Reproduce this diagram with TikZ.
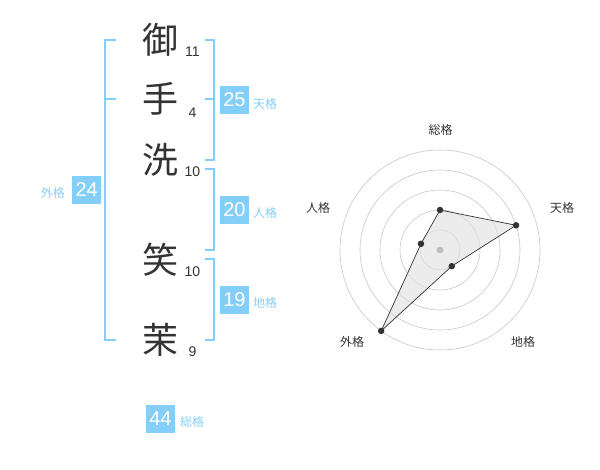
\documentclass[tikz,border=0pt]{standalone}
\usepackage{fontspec}
\usetikzlibrary{calc}
\setmainfont{Liberation Sans}
\newfontfamily\cjk{Noto Sans CJK JP}
\definecolor{lb}{RGB}{132,206,250}
\definecolor{ink}{RGB}{51,51,51}
\begin{document}
\begin{tikzpicture}[x=1pt,y=-1pt,
  kanji/.style={font=\cjk\fontsize{36}{36}\selectfont,text=ink,inner sep=0pt},
  stroke/.style={font=\fontsize{14}{14}\selectfont,text=ink,inner sep=0pt},
  numbox/.style={fill=lb,text=white,minimum width=29pt,minimum height=28pt,inner sep=0pt,font=\fontsize{20}{20}\selectfont},
  kaku/.style={font=\cjk\fontsize{12}{12}\selectfont,text=lb,inner sep=0pt},
  brk/.style={draw=lb,line width=2pt},
  ring/.style={draw=black!22,line width=0.6pt},
  axlab/.style={font=\cjk\fontsize{12}{12}\selectfont,text=ink,inner sep=0pt},
  dot/.style={circle,fill=ink,inner sep=0pt,minimum size=6.5pt}]
\useasboundingbox (0,0) rectangle (600,470);
% kanji
\node[kanji] (k1) at (160,40) {御};
\node[kanji] (k2) at (160,99) {手};
\node[kanji] (k3) at (160,160) {洗};
\node[kanji] (k4) at (160,260) {笑};
\node[kanji] (k5) at (160,340) {茉};
% stroke counts
\node[stroke] (s1) at (192.5,52) {11};
\node[stroke] (s2) at (192.5,113) {4};
\node[stroke] (s3) at (192.5,172) {10};
\node[stroke] (s4) at (192.5,272) {10};
\node[stroke] (s5) at (192.5,352) {9};
% brackets
\coordinate (lt) at (116,40); \coordinate (lm) at (116,99); \coordinate (lb) at (116,340);
\draw[brk] (lt) -- (105,40) -- (105,340) -- (lb);
\draw[brk] (lm) -- (105,99);
\coordinate (t1) at (205,40); \coordinate (t2) at (205,160); \coordinate (tm) at (205,99);
\draw[brk] (t1) -- (214,40) -- (214,160) -- (t2);
\draw[brk] (tm) -- (214,99);
\coordinate (j1) at (205,169.5); \coordinate (j2) at (205,250);
\draw[brk] (j1) -- (214,169.5) -- (214,250) -- (j2);
\coordinate (c1) at (205,259.5); \coordinate (c2) at (205,340);
\draw[brk] (c1) -- (214,259.5) -- (214,340) -- (c2);
% boxes
\node[numbox] (b25) at (234.5,100) {25};
\node[kaku,anchor=west] (l25) at (253,104) {天格};
\node[numbox] (b20) at (234.5,210) {20};
\node[kaku,anchor=west] (l20) at (253,213) {人格};
\node[numbox] (b19) at (234.5,300) {19};
\node[kaku,anchor=west] (l19) at (253,303) {地格};
\node[numbox] (b24) at (86.7,190) {24};
\node[kaku,anchor=east] (l24) at (65,193) {外格};
\node[numbox] (b44) at (160.5,419) {44};
\node[kaku,anchor=west] (l44) at (180,422) {総格};
% radar
\coordinate (c) at (440,250);
\foreach \r in {20,40,60,80,100} \draw[ring] (c) circle (\r);
\coordinate (p1) at ($(c)+(-90:40)$);
\coordinate (p2) at ($(c)+(-18:80)$);
\coordinate (p3) at ($(c)+(54:20)$);
\coordinate (p4) at ($(c)+(126:100)$);
\coordinate (p5) at ($(c)+(-162:20)$);
\fill[black!12,opacity=0.6] (p1) -- (p2) -- (p3) -- (p4) -- (p5) -- cycle;
\draw[ink,line width=0.7pt] (p1) -- (p2) -- (p3) -- (p4) -- (p5) -- cycle;
\node[circle,fill=black!25,inner sep=0pt,minimum size=7pt] (ctr) at (c) {};
\foreach \i in {1,...,5} \node[dot] (d\i) at (p\i) {};
\node[axlab] (a1) at (440.7,130) {総格};
\node[axlab] (a2) at (562,208) {天格};
\node[axlab] (a3) at (523,342) {地格};
\node[axlab] (a4) at (352,342) {外格};
\node[axlab] (a5) at (318,208) {人格};
\end{tikzpicture}
\end{document}
